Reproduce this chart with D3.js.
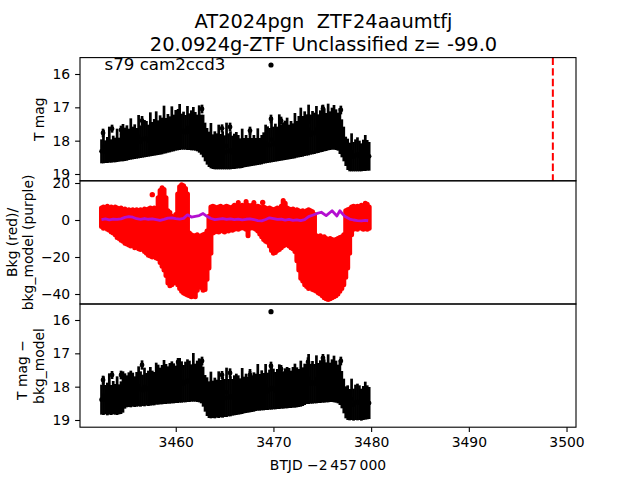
<!DOCTYPE html>
<html><head><meta charset="utf-8">
<script src="https://cdn.jsdelivr.net/npm/d3@7"></script>
<style>body{margin:0;background:#fff} svg{display:block} text{font-family:"DejaVu Sans",sans-serif}</style>
</head><body><svg id="c" width="640" height="480"></svg>
<script>
// ---- data ----
const times = [3452.4,3452.6,3452.8,3453.0,3453.2,3453.4,3453.6,3453.8,3454.0,3454.2,
3454.4,3454.6,3454.8,3455.0,3455.2,3455.4,3455.6,3455.8,3456.0,3456.2,
3456.4,3456.6,3456.8,3457.0,3457.2,3457.4,3457.6,3457.8,3458.0,3458.2,
3458.4,3458.6,3458.8,3459.0,3459.2,3459.4,3459.6,3459.8,3460.0,3460.2,
3460.4,3460.6,3460.8,3461.0,3461.2,3461.4,3461.6,3461.8,3462.0,3462.2,
3462.4,3462.6,3462.8,3463.0,3463.2,3463.4,3463.6,3463.8,3464.0,3464.2,
3464.4,3464.6,3464.8,3465.0,3465.2,3465.4,3465.6,3465.8,3466.0,3466.2,
3466.4,3466.6,3466.8,3467.0,3467.2,3467.4,3467.6,3467.8,3468.0,3468.2,
3468.4,3468.6,3468.8,3469.0,3469.2,3469.4,3469.6,3469.8,3470.0,3470.2,
3470.4,3470.6,3470.8,3471.0,3471.2,3471.4,3471.6,3471.8,3472.0,3472.2,
3472.4,3472.6,3472.8,3473.0,3473.2,3473.4,3473.6,3473.8,3474.0,3474.2,
3474.4,3474.6,3474.8,3475.0,3475.2,3475.4,3475.6,3475.8,3476.0,3476.2,
3476.4,3476.6,3476.8,3477.0,3477.2,3477.4,3477.6,3477.8,3478.0,3478.2,
3478.4,3478.6,3478.8,3479.0,3479.2,3479.4,3479.6,3479.8];

const tMag = [18.32,18.18,18.33,18.28,18.12,18.31,18.25,18.28,18.14,18.27,
18.21,18.06,18.11,18.07,18.11,17.95,18.07,18.03,18.08,17.88,
18.03,17.96,17.94,17.95,18.00,17.81,17.95,17.90,17.78,17.91,
17.83,17.86,17.67,17.85,17.78,17.81,17.65,17.77,17.69,17.73,
17.59,17.73,17.70,17.75,17.62,17.73,17.69,17.64,17.72,17.77,
17.65,17.82,17.86,18.04,18.17,18.26,18.15,18.33,18.29,18.32,
18.19,18.33,18.29,18.35,18.16,18.32,18.29,18.35,18.32,18.29,
18.33,18.38,18.23,18.36,18.31,18.35,18.23,18.34,18.29,18.33,
18.18,18.32,18.27,18.22,18.10,18.12,18.14,17.97,18.11,18.06,
18.10,17.91,18.06,18.02,18.07,17.94,18.04,17.98,18.01,17.85,
17.96,17.88,17.75,17.87,17.79,17.83,17.68,17.82,17.76,17.78,
17.67,17.79,17.72,17.64,17.68,17.74,17.59,17.70,17.64,17.60,
17.67,17.73,17.71,17.93,18.10,18.32,18.41,18.49,18.35,18.48,
18.44,18.41,18.46,18.50,18.44,18.37,18.44,18.47];
const tErr = [0.36,0.50,0.34,0.39,0.54,0.35,0.40,0.37,0.50,0.36,
0.41,0.56,0.50,0.53,0.47,0.62,0.49,0.52,0.46,0.65,
0.49,0.55,0.56,0.54,0.48,0.66,0.51,0.55,0.66,0.52,
0.59,0.55,0.72,0.53,0.58,0.54,0.68,0.55,0.61,0.56,
0.69,0.54,0.57,0.52,0.66,0.55,0.60,0.65,0.58,0.55,
0.71,0.60,0.64,0.58,0.55,0.53,0.68,0.52,0.57,0.54,
0.67,0.53,0.57,0.51,0.70,0.54,0.57,0.50,0.53,0.55,
0.50,0.45,0.59,0.44,0.48,0.43,0.54,0.42,0.46,0.41,
0.55,0.40,0.44,0.47,0.58,0.55,0.52,0.68,0.53,0.57,
0.52,0.70,0.54,0.57,0.51,0.63,0.52,0.57,0.53,0.68,
0.55,0.62,0.74,0.61,0.67,0.62,0.76,0.60,0.65,0.62,
0.71,0.58,0.63,0.70,0.64,0.57,0.70,0.58,0.63,0.67,
0.61,0.57,0.69,0.57,0.52,0.44,0.47,0.43,0.57,0.44,
0.48,0.51,0.46,0.42,0.47,0.54,0.46,0.43];

const bkgHigh = [6.5,7.0,6.5,7.5,6.5,7.0,6.0,7.0,6.5,6.0,
6.5,5.5,6.0,5.0,5.5,5.0,5.5,5.0,5.5,5.0,
5.5,5.0,6.0,5.5,6.0,6.5,6.0,6.5,6.0,12.0,
16.0,17.5,16.5,12.0,5.0,4.0,2.0,1.0,3.0,14.0,
18.0,19.0,18.5,17.0,14.0,-7.0,-8.0,-8.5,-8.5,-8.0,
-9.0,-8.5,-8.0,-7.5,-6.0,2.0,7.0,7.5,7.0,6.5,
7.0,7.5,6.5,7.0,7.5,7.0,6.5,7.0,8.0,7.5,
9.5,7.0,8.0,7.5,10.0,8.0,7.5,8.0,9.5,7.0,
7.5,7.0,6.5,7.0,6.5,6.0,6.5,6.0,5.5,6.0,
6.5,6.0,7.5,10.5,9.0,6.5,6.0,5.5,6.0,5.0,
5.5,5.0,4.5,5.0,4.0,5.0,5.5,5.0,4.5,3.0,
-8.5,-9.0,-8.5,-9.5,-9.0,-10.0,-10.5,-10.0,-10.5,-11.0,
-10.5,-10.0,-9.5,-9.0,-8.0,5.0,5.5,6.0,7.0,7.5,
7.0,7.5,7.0,8.0,7.5,9.0,8.5,7.0];
const bkgLow = [-3.5,-4.5,-4.0,-5.0,-5.5,-6.5,-7.0,-8.0,-9.5,-10.0,
-11.0,-11.5,-12.5,-13.0,-13.5,-14.0,-13.5,-15.0,-14.5,-15.5,
-16.0,-15.0,-17.0,-18.0,-19.0,-19.5,-20.0,-19.5,-20.5,-21.0,
-23.0,-25.0,-27.0,-30.0,-34.0,-35.5,-35.0,-34.0,-33.0,-35.0,
-37.0,-38.5,-39.5,-40.0,-40.5,-41.0,-41.5,-41.0,-41.5,-38.0,
-36.0,-36.5,-38.0,-37.5,-32.0,-26.0,-18.0,-7.0,-6.5,-6.0,
-6.5,-5.5,-6.0,-6.5,-5.5,-6.0,-5.0,-5.5,-5.0,-4.5,
-5.0,-4.5,-4.0,-4.5,-5.0,-8.5,-4.5,-4.0,-4.5,-5.0,
-6.0,-7.5,-9.0,-10.5,-11.5,-12.0,-14.0,-16.5,-18.0,-17.5,
-16.5,-16.0,-15.0,-14.0,-13.5,-13.0,-14.0,-15.0,-15.5,-17.0,
-22.0,-27.0,-31.5,-33.0,-35.0,-36.0,-37.0,-36.5,-37.5,-38.0,
-38.5,-39.5,-40.0,-41.0,-42.0,-42.5,-43.0,-42.5,-42.0,-41.5,
-41.0,-40.0,-38.5,-37.0,-35.0,-31.0,-26.0,-18.0,-8.0,-5.0,
-4.5,-5.0,-4.0,-4.5,-5.0,-4.5,-5.0,-4.5];
const strayTimes = [3457.6, 3468.9];
const strayBkg = [13.7, 9.5];

const modelTimes = [3452.4,3452.8,3453.2,3453.6,3454.0,3454.4,3454.8,3455.2,3455.6,3456.0,
3456.4,3456.8,3457.2,3457.6,3458.0,3458.4,3458.8,3459.2,3459.6,3460.0,
3460.4,3460.8,3461.2,3461.6,3462.0,3462.4,3462.8,3463.2,3463.6,3464.0,
3464.4,3464.8,3465.2,3465.6,3466.0,3466.4,3466.8,3467.2,3467.6,3468.0,
3468.4,3468.8,3469.2,3469.6,3470.0,3470.4,3470.8,3471.2,3471.6,3472.0,
3472.4,3472.8,3473.2,3473.6,3474.0,3474.4,3474.9,3475.4,3476.0,3476.5,
3476.8,3477.3,3477.8,3478.2,3478.6,3479.0,3479.4,3479.7];
const bkgModel = [0.2,0.6,0.1,0.5,0.3,0.6,1.4,1.8,1.5,0.7,
0.3,0.8,0.4,0.6,0.2,-0.2,0.3,1.0,1.2,0.8,
0.5,0.9,2.8,1.6,2.0,2.4,3.5,2.0,0.8,0.2,
0.5,0.8,0.3,0.6,0.2,0.5,0.1,0.4,0.6,0.2,
-0.3,-0.5,0.3,1.2,0.8,0.3,0.5,-0.1,0.3,-0.2,
0.1,-0.3,0.2,1.8,2.6,3.4,4.2,2.4,5.0,2.2,
5.0,2.0,0.5,0.0,-0.3,-0.5,-0.2,-0.4];

const diffMag = [18.39,18.27,18.39,18.37,18.22,18.40,18.33,18.38,18.27,18.38,
18.33,18.16,18.13,18.14,18.09,18.07,18.09,18.15,18.08,17.99,
18.07,18.11,18.01,18.08,18.05,17.99,18.04,18.06,17.91,17.94,
17.98,17.94,17.86,17.92,17.95,17.90,17.87,17.90,17.93,17.88,
17.81,17.86,17.91,17.86,17.82,17.84,17.89,17.72,17.88,17.84,
17.81,17.88,18.00,18.20,18.30,18.39,18.25,18.38,18.34,18.36,
18.24,18.36,18.32,18.34,18.17,18.33,18.29,18.32,18.26,18.23,
18.25,18.29,18.13,18.25,18.20,18.24,18.12,18.21,18.16,18.17,
18.02,18.17,18.11,18.15,18.01,18.14,18.09,18.04,18.07,18.12,
18.07,18.00,18.05,18.10,18.05,18.03,18.04,18.08,18.02,17.97,
18.02,18.04,17.91,18.00,17.93,17.92,17.77,17.91,17.87,17.91,
17.78,17.89,17.85,17.79,17.83,17.87,17.75,17.87,17.82,17.77,
17.85,17.92,17.88,18.09,18.28,18.47,18.48,18.54,18.38,18.54,
18.47,18.46,18.48,18.54,18.49,18.42,18.47,18.49];
const diffErr = [0.45,0.58,0.44,0.49,0.62,0.45,0.50,0.46,0.58,0.45,
0.49,0.62,0.53,0.48,0.52,0.55,0.51,0.46,0.52,0.60,
0.53,0.47,0.58,0.49,0.53,0.58,0.52,0.50,0.63,0.60,
0.55,0.59,0.66,0.60,0.56,0.61,0.63,0.60,0.56,0.61,
0.67,0.62,0.56,0.61,0.64,0.62,0.56,0.73,0.57,0.62,
0.66,0.62,0.60,0.55,0.58,0.55,0.70,0.56,0.61,0.57,
0.70,0.56,0.61,0.57,0.74,0.56,0.60,0.55,0.60,0.62,
0.59,0.54,0.69,0.55,0.59,0.54,0.65,0.55,0.59,0.56,
0.70,0.55,0.60,0.56,0.69,0.56,0.60,0.65,0.61,0.56,
0.60,0.67,0.61,0.56,0.60,0.62,0.60,0.56,0.61,0.66,
0.60,0.57,0.69,0.58,0.62,0.60,0.75,0.60,0.64,0.59,
0.72,0.60,0.64,0.69,0.65,0.60,0.72,0.59,0.64,0.70,
0.63,0.58,0.67,0.56,0.52,0.48,0.52,0.47,0.62,0.48,
0.53,0.55,0.52,0.48,0.51,0.57,0.51,0.48];

// isolated bright points sitting above the main band
const extraTimes1 = [3452.56,3453.48,3454.4,3456.55,3460.24,3462.69,3464.74,3465.56,3467.6,3469.75,3470.78,3471.19,3473.64,3475.07,3476.9];
const extraMag1 = [17.77,17.64,17.68,17.40,17.17,17.05,17.63,17.59,17.70,17.35,17.40,17.53,17.35,17.04,17.08];
const extraErr1 = [0.13,0.12,0.13,0.14,0.12,0.13,0.12,0.13,0.12,0.13,0.12,0.13,0.14,0.12,0.13];
const extraTimes3 = [3452.56,3453.48,3454.4,3456.55,3460.24,3462.69,3464.74,3465.56,3467.6,3469.75,3470.78,3473.54,3475.07,3476.9];
const extraMag3 = [17.80,17.65,17.65,17.35,17.26,17.23,17.65,17.59,17.65,17.38,17.47,17.26,17.14,17.23];
const extraErr3 = [0.13,0.12,0.13,0.14,0.12,0.13,0.12,0.14,0.12,0.13,0.12,0.14,0.12,0.13];
const outlierTime = [3469.75];
const outlierMag1 = [15.73];
const outlierMag3 = [15.75];
const outlierErr = [0.04];

const discoveryTime = [3498.6];
const magTicks = [16, 17, 18, 19];
const bkgTicks = [20, 0, -20, -40];
const timeTicks = [3460, 3470, 3480, 3490, 3500];

// ---- layout ----
const L = 80, R = 576;
const P1 = [57.6, 180.8], P2 = [180.8, 304], P3 = [304, 427.2];
const svg = d3.select("#c");
const x = d3.scaleLinear().domain([3450.2, 3500.97]).range([L, R]);
const yMag = d3.scaleLinear().domain([15.508, 19.204]).range([P1[0], P1[1]]);
const yBkg = d3.scaleLinear().domain([-45.4, 21.19]).range([P2[1], P2[0]]);
const yDiff = d3.scaleLinear().domain([15.52, 19.216]).range([P3[0], P3[1]]);
const fmt = d3.format("d");

function errorbars(ys, ts, ms, es, r) {
  const g = svg.append("g");
  g.selectAll("line").data(ts).join("line")
    .attr("x1", (d) => x(d)).attr("x2", (d) => x(d))
    .attr("y1", (d, i) => ys(ms[i] - es[i])).attr("y2", (d, i) => ys(ms[i] + es[i]))
    .attr("stroke", "#000").attr("stroke-width", 2.7);
  g.selectAll("circle").data(ts).join("circle")
    .attr("cx", (d) => x(d)).attr("cy", (d, i) => ys(ms[i])).attr("r", r).attr("fill", "#000");
}

// panel 1
errorbars(yMag, times, tMag, tErr, 2.3);
errorbars(yMag, extraTimes1, extraMag1, extraErr1, 2.4);
errorbars(yMag, outlierTime, outlierMag1, outlierErr, 2.6);
svg.append("line").attr("x1", x(discoveryTime[0])).attr("x2", x(discoveryTime[0]))
  .attr("y1", P1[0]).attr("y2", P1[1]).attr("stroke", "#ff0000").attr("stroke-width", 2)
  .attr("stroke-dasharray", "7.4,3.2");
svg.append("text").attr("x", 104.5).attr("y", 70).attr("font-size", 16.67).text("s79 cam2ccd3");

// panel 2
const g2 = svg.append("g");
g2.selectAll("line").data(times).join("line")
  .attr("x1", (d) => x(d)).attr("x2", (d) => x(d))
  .attr("y1", (d, i) => yBkg(bkgHigh[i])).attr("y2", (d, i) => yBkg(bkgLow[i]))
  .attr("stroke", "#ff0000").attr("stroke-width", 5).attr("stroke-linecap", "round");
g2.selectAll("circle").data(strayTimes).join("circle")
  .attr("cx", (d) => x(d)).attr("cy", (d, i) => yBkg(strayBkg[i])).attr("r", 2.7).attr("fill", "#ff0000");
svg.append("path").datum(modelTimes)
  .attr("d", d3.line().x((d) => x(d)).y((d, i) => yBkg(bkgModel[i])))
  .attr("fill", "none").attr("stroke", "#b30fd0").attr("stroke-width", 2.8).attr("stroke-linejoin", "round");

// panel 3
errorbars(yDiff, times, diffMag, diffErr, 2.3);
errorbars(yDiff, extraTimes3, extraMag3, extraErr3, 2.4);
errorbars(yDiff, outlierTime, outlierMag3, outlierErr, 2.6);

// axes
function styleAxis(g) {
  g.select(".domain").remove();
  g.selectAll(".tick line").attr("stroke", "#000").attr("stroke-width", 1.1);
  g.selectAll(".tick text").attr("fill", "#000").attr("font-size", 13.9).attr("font-family", "DejaVu Sans");
}
svg.append("g").attr("transform", `translate(${L},0)`)
  .call(d3.axisLeft(yMag).tickValues(magTicks).tickFormat(fmt).tickSize(4.9).tickPadding(4.9)).call(styleAxis);
svg.append("g").attr("transform", `translate(${L},0)`)
  .call(d3.axisLeft(yBkg).tickValues(bkgTicks).tickFormat(fmt).tickSize(4.9).tickPadding(4.9)).call(styleAxis);
svg.append("g").attr("transform", `translate(${L},0)`)
  .call(d3.axisLeft(yDiff).tickValues(magTicks).tickFormat(fmt).tickSize(4.9).tickPadding(4.9)).call(styleAxis);
svg.append("g").attr("transform", `translate(0,${P3[1]})`)
  .call(d3.axisBottom(x).tickValues(timeTicks).tickSize(4.9).tickPadding(4.9).tickFormat(fmt)).call(styleAxis);

[P1, P2, P3].forEach((p) => {
  svg.append("rect").attr("x", L).attr("y", p[0]).attr("width", R - L).attr("height", p[1] - p[0])
    .attr("fill", "none").attr("stroke", "#000").attr("stroke-width", 1.1);
});

// labels
function vlabel(xb, yc, txt) {
  svg.append("text").attr("transform", `translate(${xb},${yc}) rotate(-90)`)
    .attr("text-anchor", "middle").attr("font-size", 13.9).text(txt);
}
vlabel(43.5, 119.2, "T mag");
vlabel(16.5, 242.4, "Bkg (red)/");
vlabel(32.5, 242.4, "bkg_model (purple)");
vlabel(26.5, 370, "T mag \u2212");
vlabel(43.5, 366, "bkg_model");
svg.append("text").attr("x", 328).attr("y", 469.5).attr("text-anchor", "middle").attr("font-size", 13.9)
  .text("BTJD \u22122\u2009457\u2009000");
svg.append("text").attr("x", 323.5).attr("y", 28).attr("text-anchor", "middle").attr("font-size", 19.4)
  .style("white-space", "pre").text("AT2024pgn  ZTF24aaumtfj");
svg.append("text").attr("x", 323.5).attr("y", 50.5).attr("text-anchor", "middle").attr("font-size", 19.4)
  .text("20.0924g-ZTF Unclassified z= -99.0");
</script></body></html>
